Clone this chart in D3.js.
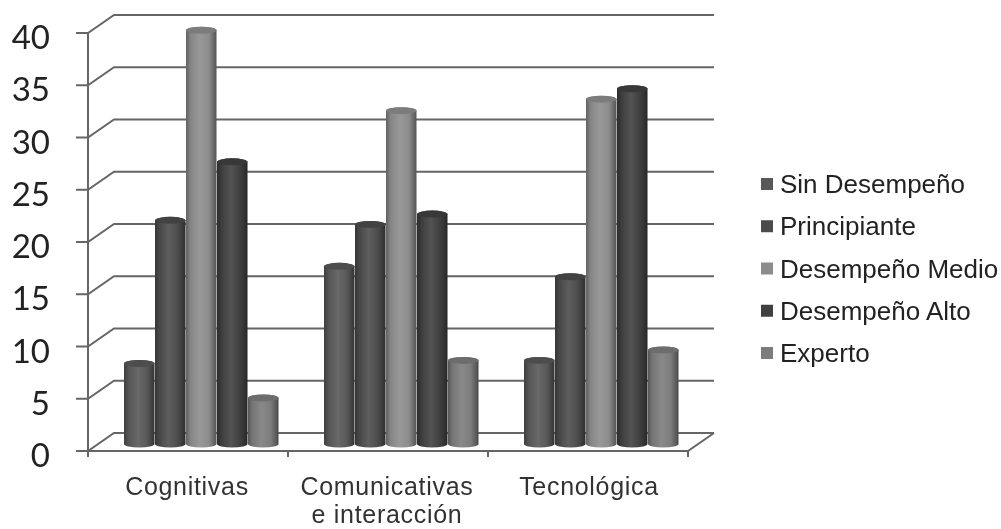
<!DOCTYPE html>
<html><head><meta charset="utf-8">
<script src="https://cdn.jsdelivr.net/npm/d3@7"></script>
<style>html,body{margin:0;padding:0;background:#fff;overflow:hidden}svg{display:block}</style>
</head><body><svg id="c" width="1001" height="529"></svg>
<script>
const categories = ["Cognitivas", "Comunicativas|e interacción", "Tecnológica"];
const seriesNames = ["Sin Desempeño", "Principiante", "Desempeño Medio", "Desempeño Alto", "Experto"];
const sinDesempeno = [7.7, 17.0, 8.0];
const principiante = [21.4, 21.0, 16.0];
const desempenoMedio = [39.6, 31.9, 33.0];
const desempenoAlto = [27.0, 22.0, 34.0];
const experto = [4.4, 8.0, 9.0];
const yTicks = [0, 5, 10, 15, 20, 25, 30, 35, 40];
const seriesColors = ["#585858", "#4c4c4c", "#8c8c8c", "#404040", "#7c7c7c"];
const seriesValues = [sinDesempeno, principiante, desempenoMedio, desempenoAlto, experto];

const svg = d3.select("#c");
const y = d3.scaleLinear().domain([0, 40]).range([451, 33]);
const x = d3.scaleBand().domain(categories).range([88, 688]);
const inner = d3.scaleBand().domain(seriesNames).range([36, 191]);
const dx = 26, dy = -18, barLift = 7, ry = 3.5;

const defs = svg.append("defs");
defs.append("filter").attr("id", "soft").append("feGaussianBlur").attr("stdDeviation", 0.75);
defs.append("filter").attr("id", "softText").append("feGaussianBlur").attr("stdDeviation", 0.45);
seriesColors.forEach((c, i) => {
  const g = defs.append("linearGradient").attr("id", "g" + i);
  [[0, -0.3], [0.15, -0.05], [0.45, 0.1], [0.75, 0], [0.93, -0.28], [1, -0.42]].forEach(([o, k]) => {
    g.append("stop").attr("offset", o).attr("stop-color", k > 0 ? d3.interpolateRgb(c, "#fff")(k) : d3.interpolateRgb(c, "#000")(-k));
  });
});

const grid = svg.append("g").attr("filter", "url(#soft)").attr("fill", "none").attr("stroke", "#666").attr("stroke-width", 2);
const x0 = x.range()[0], x1 = x.range()[1];
yTicks.forEach(t => {
  grid.append("path").attr("d", d3.line()([[76, y(t)], [x0, y(t)], [x0 + dx, y(t) + dy], [x1 + dx, y(t) + dy]]));
});
grid.append("path").attr("d", d3.line()([[x0, y(40)], [x0, y(0) + 6]]));
grid.append("path").attr("d", d3.line()([[x0, y(0)], [x1, y(0)], [x1 + dx, y(0) + dy]]));
[...categories.map(c => x(c)), x1].forEach(v => {
  grid.append("path").attr("d", d3.line()([[v, y(0)], [v, y(0) + 6]]));
});

const bars = svg.append("g").attr("filter", "url(#soft)");
categories.forEach((cat, ci) => {
  seriesNames.forEach((s, si) => {
    const l = x(cat) + inner(s), w = inner.bandwidth() - 0.5;
    const yb = y(0) - barLift, yt = y(seriesValues[si][ci]) - barLift;
    bars.append("path")
      .attr("d", `M${l},${yt}A${w / 2},${ry} 0 0 1 ${l + w},${yt}L${l + w},${yb}A${w / 2},${ry} 0 0 1 ${l},${yb}Z`)
      .attr("fill", `url(#g${si})`);
    bars.append("ellipse").attr("cx", l + w / 2).attr("cy", yt).attr("rx", w / 2).attr("ry", ry)
      .attr("fill", d3.interpolateRgb(seriesColors[si], "#000")(0.12));
  });
});

const txt = svg.append("g").attr("filter", "url(#softText)");
txt.append("g").selectAll("text").data(yTicks).join("text")
  .attr("x", 50).attr("y", d => y(d) + 16).attr("text-anchor", "end")
  .attr("font-family", "Lato, 'Open Sans', sans-serif").attr("font-size", 33).attr("fill", "#222")
  .text(d => d);
categories.forEach((cat, ci) => {
  cat.split("|").forEach((line, i) => {
    txt.append("text").attr("x", x(cat) + x.bandwidth() / 2 + (ci === 0 ? -1 : ci === 2 ? 1 : -1))
      .attr("y", 495 + i * 28).attr("text-anchor", "middle")
      .attr("font-family", "'Liberation Sans', Arial, sans-serif").attr("font-size", 25)
      .attr("letter-spacing", 0.7).attr("fill", "#333")
      .text(line);
  });
});

const legendY = d3.scalePoint().domain(seriesNames).range([184, 353]);
const lg = svg.append("g");
seriesNames.forEach((s, i) => {
  lg.append("rect").attr("x", 761).attr("y", legendY(s) - 6).attr("width", 12).attr("height", 12)
    .attr("fill", seriesColors[i]).attr("filter", "url(#softText)");
  lg.append("text").attr("x", 780).attr("y", legendY(s) + 9)
    .attr("font-family", "'Liberation Sans', Arial, sans-serif").attr("font-size", 26).attr("fill", "#222")
    .attr("filter", "url(#softText)").text(s);
});
</script></body></html>
